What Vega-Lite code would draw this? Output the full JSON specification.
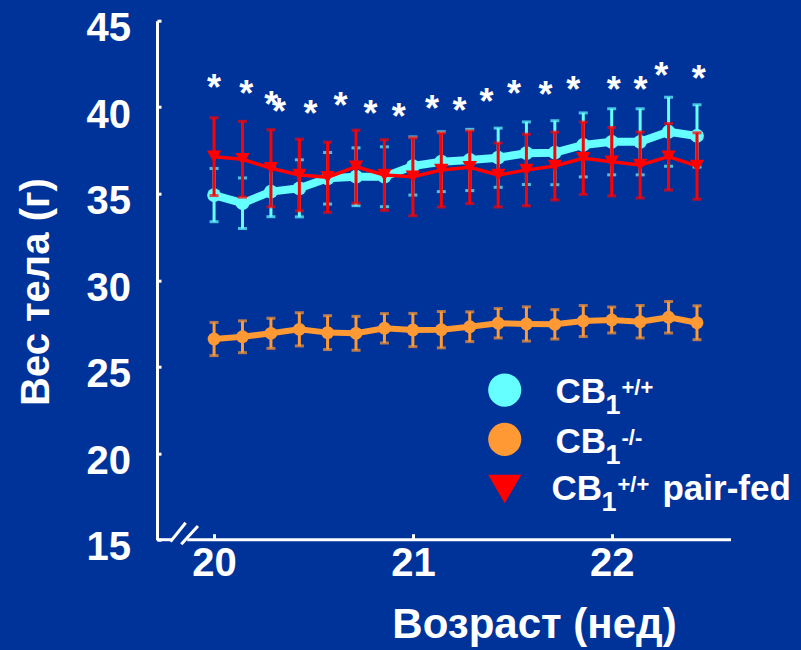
{
  "$schema": "https://vega.github.io/schema/vega-lite/v6.json",
  "width": 574,
  "height": 519,
  "autosize": {"type": "none"},
  "padding": {"left": 157, "top": 20.7, "right": 70, "bottom": 110.3},
  "background": "#003399",
  "config": {"view": {"stroke": null}, "font": "Liberation Sans"},
  "datasets": {
    "d": [
      {"g": "wt", "x": 20.0, "y": 34.92, "err": 1.54},
      {"g": "wt", "x": 20.143, "y": 34.45, "err": 1.46},
      {"g": "wt", "x": 20.286, "y": 35.12, "err": 1.45},
      {"g": "wt", "x": 20.429, "y": 35.31, "err": 1.65},
      {"g": "wt", "x": 20.571, "y": 35.89, "err": 1.49},
      {"g": "wt", "x": 20.714, "y": 35.98, "err": 1.67},
      {"g": "wt", "x": 20.857, "y": 35.98, "err": 1.73},
      {"g": "wt", "x": 21.0, "y": 36.6, "err": 1.68},
      {"g": "wt", "x": 21.143, "y": 36.85, "err": 1.73},
      {"g": "wt", "x": 21.286, "y": 36.95, "err": 1.77},
      {"g": "wt", "x": 21.429, "y": 37.08, "err": 1.71},
      {"g": "wt", "x": 21.571, "y": 37.34, "err": 1.81},
      {"g": "wt", "x": 21.714, "y": 37.37, "err": 1.85},
      {"g": "wt", "x": 21.857, "y": 37.82, "err": 1.85},
      {"g": "wt", "x": 22.0, "y": 38.0, "err": 1.91},
      {"g": "wt", "x": 22.143, "y": 38.0, "err": 1.91},
      {"g": "wt", "x": 22.286, "y": 38.58, "err": 1.99},
      {"g": "wt", "x": 22.429, "y": 38.34, "err": 1.8},
      {"g": "ko", "x": 20.0, "y": 26.6, "err": 0.96},
      {"g": "ko", "x": 20.143, "y": 26.73, "err": 0.92},
      {"g": "ko", "x": 20.286, "y": 26.93, "err": 0.87},
      {"g": "ko", "x": 20.429, "y": 27.16, "err": 0.96},
      {"g": "ko", "x": 20.571, "y": 26.97, "err": 0.98},
      {"g": "ko", "x": 20.714, "y": 26.93, "err": 0.98},
      {"g": "ko", "x": 20.857, "y": 27.22, "err": 0.85},
      {"g": "ko", "x": 21.0, "y": 27.12, "err": 0.96},
      {"g": "ko", "x": 21.143, "y": 27.14, "err": 1.05},
      {"g": "ko", "x": 21.286, "y": 27.31, "err": 0.86},
      {"g": "ko", "x": 21.429, "y": 27.51, "err": 0.85},
      {"g": "ko", "x": 21.571, "y": 27.47, "err": 0.99},
      {"g": "ko", "x": 21.714, "y": 27.45, "err": 0.85},
      {"g": "ko", "x": 21.857, "y": 27.64, "err": 0.9},
      {"g": "ko", "x": 22.0, "y": 27.7, "err": 0.75},
      {"g": "ko", "x": 22.143, "y": 27.6, "err": 0.94},
      {"g": "ko", "x": 22.286, "y": 27.86, "err": 0.91},
      {"g": "ko", "x": 22.429, "y": 27.54, "err": 0.98},
      {"g": "pf", "x": 20.0, "y": 37.14, "err": 2.25},
      {"g": "pf", "x": 20.143, "y": 36.99, "err": 2.19},
      {"g": "pf", "x": 20.286, "y": 36.47, "err": 2.23},
      {"g": "pf", "x": 20.429, "y": 36.08, "err": 2.07},
      {"g": "pf", "x": 20.571, "y": 35.95, "err": 2.03},
      {"g": "pf", "x": 20.714, "y": 36.56, "err": 2.11},
      {"g": "pf", "x": 20.857, "y": 36.08, "err": 2.04},
      {"g": "pf", "x": 21.0, "y": 35.98, "err": 2.25},
      {"g": "pf", "x": 21.143, "y": 36.37, "err": 2.14},
      {"g": "pf", "x": 21.286, "y": 36.53, "err": 2.1},
      {"g": "pf", "x": 21.429, "y": 36.08, "err": 1.85},
      {"g": "pf", "x": 21.571, "y": 36.37, "err": 2.07},
      {"g": "pf", "x": 21.714, "y": 36.6, "err": 1.96},
      {"g": "pf", "x": 21.857, "y": 37.05, "err": 2.09},
      {"g": "pf", "x": 22.0, "y": 36.85, "err": 1.98},
      {"g": "pf", "x": 22.143, "y": 36.66, "err": 1.91},
      {"g": "pf", "x": 22.286, "y": 37.14, "err": 1.92},
      {"g": "pf", "x": 22.429, "y": 36.6, "err": 1.92}
    ],
    "stars": [
      {"x": 20.0, "y": 41.6}, {"x": 20.162, "y": 41.22}, {"x": 20.288, "y": 40.59},
      {"x": 20.326, "y": 40.16}, {"x": 20.485, "y": 40.07}, {"x": 20.636, "y": 40.51},
      {"x": 20.787, "y": 40.07}, {"x": 20.929, "y": 39.87}, {"x": 21.096, "y": 40.33},
      {"x": 21.235, "y": 40.26}, {"x": 21.37, "y": 40.78}, {"x": 21.508, "y": 41.22},
      {"x": 21.667, "y": 41.16}, {"x": 21.806, "y": 41.47}, {"x": 22.01, "y": 41.47},
      {"x": 22.145, "y": 41.47}, {"x": 22.249, "y": 42.28}, {"x": 22.438, "y": 42.09}
    ],
    "brk": [
      {"x": 19.713, "x2": 19.791, "y": 15, "y2": 15},
      {"x": 19.781, "x2": 19.857, "y": 14.885, "y2": 15.983},
      {"x": 19.835, "x2": 19.919, "y": 14.734, "y2": 15.792},
      {"x": 19.865, "x2": 22.6, "y": 15, "y2": 15}
    ],
    "legsym": [
      {"g": "wt", "x": 21.462, "y": 23.65},
      {"g": "ko", "x": 21.462, "y": 20.8},
      {"g": "pf", "x": 21.462, "y": 17.93}
    ],
    "legtxt": [
      {"x": 21.717, "y": 22.885, "sup": "+/+", "suffix": ""},
      {"x": 21.717, "y": 20.03, "sup": "-/-", "suffix": ""},
      {"x": 21.697, "y": 17.29, "sup": "+/+", "suffix": "pair-fed"}
    ]
  },
  "encoding": {
    "x": {
      "field": "x", "type": "quantitative",
      "scale": {"domain": [19.713, 22.6], "nice": false, "zero": false},
      "axis": {
        "title": "Возраст (нед)", "values": [20, 21, 22], "format": "d",
        "domain": false, "grid": false,
        "tickColor": "white", "tickWidth": 3, "tickSize": -6,
        "labelColor": "white", "labelFont": "Liberation Sans", "labelFontSize": 40, "labelFontWeight": "bold",
        "labelBaseline": "alphabetic", "labelPadding": 42, "labelFlush": false,
        "titleColor": "white", "titleFont": "Liberation Sans", "titleFontSize": 42, "titleFontWeight": "bold",
        "titleX": 377, "titleY": 97.6, "titleAlign": "center", "titleBaseline": "alphabetic"
      }
    },
    "y": {
      "field": "y", "type": "quantitative",
      "scale": {"domain": [15, 45], "nice": false, "zero": false},
      "axis": {
        "title": "Вес тела (г)", "values": [15, 20, 25, 30, 35, 40, 45],
        "grid": false, "domainColor": "white", "domainWidth": 3,
        "tickColor": "white", "tickWidth": 3, "tickSize": -4,
        "labelColor": "white", "labelFont": "Liberation Sans", "labelFontSize": 40, "labelFontWeight": "bold",
        "labelBaseline": "alphabetic", "labelOffset": 20, "labelPadding": 30.6, "labelAlign": "right",
        "titleColor": "white", "titleFont": "Liberation Sans", "titleFontSize": 40, "titleFontWeight": "bold",
        "titleX": -109, "titleY": 270.8, "titleAlign": "center", "titleBaseline": "alphabetic", "titleAngle": -90
      }
    }
  },
  "layer": [
    {
      "data": {"name": "d"},
      "transform": [{"filter": "datum.g == 'wt'"}],
      "mark": {"type": "errorbar", "color": "#66ffff", "ticks": {"size": 9, "thickness": 3, "color": "#66ffff"}, "rule": {"strokeWidth": 3}},
      "encoding": {"yError": {"field": "err"}}
    },
    {
      "data": {"name": "d"},
      "transform": [{"filter": "datum.g == 'wt'"}],
      "mark": {"type": "line", "color": "#66ffff", "strokeWidth": 8, "strokeJoin": "round"}
    },
    {
      "data": {"name": "d"},
      "transform": [{"filter": "datum.g == 'wt'"}],
      "mark": {"type": "point", "filled": true, "opacity": 1, "size": 190, "color": "#66ffff", "shape": "circle"}
    },
    {
      "data": {"name": "d"},
      "transform": [{"filter": "datum.g == 'ko'"}],
      "mark": {"type": "errorbar", "color": "#ff9933", "ticks": {"size": 9, "thickness": 3, "color": "#ff9933"}, "rule": {"strokeWidth": 3}},
      "encoding": {"yError": {"field": "err"}}
    },
    {
      "data": {"name": "d"},
      "transform": [{"filter": "datum.g == 'ko'"}],
      "mark": {"type": "line", "color": "#ff9933", "strokeWidth": 6, "strokeJoin": "round"}
    },
    {
      "data": {"name": "d"},
      "transform": [{"filter": "datum.g == 'ko'"}],
      "mark": {"type": "point", "filled": true, "opacity": 1, "size": 165, "color": "#ff9933", "shape": "circle"}
    },
    {
      "data": {"name": "d"},
      "transform": [{"filter": "datum.g == 'pf'"}],
      "mark": {"type": "errorbar", "color": "#ff0000", "ticks": {"size": 9, "thickness": 3, "color": "#ff0000"}, "rule": {"strokeWidth": 3}},
      "encoding": {"yError": {"field": "err"}}
    },
    {
      "data": {"name": "d"},
      "transform": [{"filter": "datum.g == 'pf'"}],
      "mark": {"type": "line", "color": "#ff0000", "strokeWidth": 3.5, "strokeJoin": "round"}
    },
    {
      "data": {"name": "d"},
      "transform": [{"filter": "datum.g == 'pf'"}],
      "mark": {"type": "point", "filled": true, "opacity": 1, "size": 210, "color": "#ff0000", "shape": "triangle-down"}
    },
    {
      "data": {"name": "stars"},
      "mark": {"type": "text", "text": "*", "font": "Liberation Sans", "fontSize": 36, "fontWeight": "bold", "color": "white", "align": "center", "baseline": "alphabetic", "dy": 20}
    },
    {
      "data": {"name": "brk"},
      "mark": {"type": "rule", "color": "white", "strokeWidth": 3},
      "encoding": {"x2": {"field": "x2"}, "y2": {"field": "y2"}}
    },
    {
      "data": {"name": "legsym"},
      "mark": {"type": "point", "filled": true, "opacity": 1, "size": 1100},
      "encoding": {
        "color": {"field": "g", "type": "nominal", "scale": {"domain": ["wt", "ko", "pf"], "range": ["#66ffff", "#ff9933", "#ff0000"]}, "legend": null},
        "shape": {"field": "g", "type": "nominal", "scale": {"domain": ["wt", "ko", "pf"], "range": ["circle", "circle", "triangle-down"]}, "legend": null}
      }
    },
    {
      "data": {"name": "legtxt"},
      "mark": {"type": "text", "text": "CB", "font": "Liberation Sans", "fontSize": 35, "fontWeight": "bold", "color": "white", "align": "left", "baseline": "alphabetic"}
    },
    {
      "data": {"name": "legtxt"},
      "mark": {"type": "text", "text": "1", "font": "Liberation Sans", "fontSize": 27, "fontWeight": "bold", "color": "white", "align": "left", "baseline": "alphabetic", "dx": 50, "dy": 11}
    },
    {
      "data": {"name": "legtxt"},
      "mark": {"type": "text", "font": "Liberation Sans", "fontSize": 22, "fontWeight": "bold", "color": "white", "align": "left", "baseline": "alphabetic", "dx": 66, "dy": -8},
      "encoding": {"text": {"field": "sup"}}
    },
    {
      "data": {"name": "legtxt"},
      "mark": {"type": "text", "font": "Liberation Sans", "fontSize": 35, "fontWeight": "bold", "color": "white", "align": "left", "baseline": "alphabetic", "dx": 111},
      "encoding": {"text": {"field": "suffix"}}
    }
  ]
}
